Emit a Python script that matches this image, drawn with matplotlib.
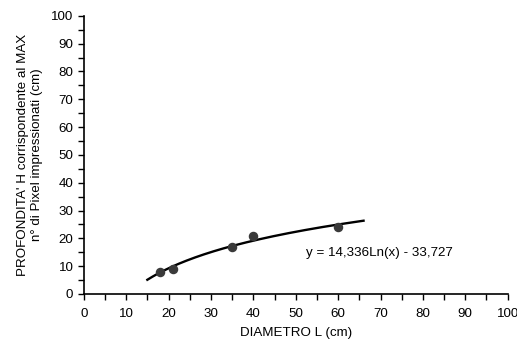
import numpy as np
from matplotlib import pyplot as plt
from matplotlib.ticker import MultipleLocator

plt.rcParams['font.family'] = ['Liberation Sans', 'DejaVu Sans']

# data
diametro = [18, 21, 35, 40, 60]
profondita = [8, 9, 17, 21, 24]

# logarithmic trendline, coefficients as printed on the chart
coef_a = 14.336
coef_b = -33.727
trend_x0, trend_x1 = 15, 66

fig = plt.figure(figsize=(5.17, 3.45), dpi=100)
ax = fig.add_axes([0.162, 0.148, 0.82, 0.806])

xx = np.linspace(trend_x0, trend_x1, 200)
ax.plot(xx, coef_a * np.log(xx) + coef_b, color="black", linewidth=1.7, zorder=2)
ax.scatter(diametro, profondita, s=34, color="#3a3a3a", zorder=3)

ax.text(52.5, 14.7, "y = 14,336Ln(x) - 33,727", fontsize=9.6, va="center", ha="left")

ax.set_xlim(0, 100)
ax.set_ylim(0, 100)
ax.xaxis.set_major_locator(MultipleLocator(10))
ax.xaxis.set_minor_locator(MultipleLocator(5))
ax.yaxis.set_major_locator(MultipleLocator(10))
ax.yaxis.set_minor_locator(MultipleLocator(5))
ax.tick_params(which="both", direction="out", length=4, width=1, labelsize=9.6)
ax.tick_params(axis="x", pad=6)

for s in ["top", "right"]:
    ax.spines[s].set_visible(False)
for s in ["left", "bottom"]:
    ax.spines[s].set_linewidth(1.2)

ax.set_xlabel("DIAMETRO L (cm)", fontsize=9.6, labelpad=5)
ax.set_ylabel("PROFONDITA' H corrispondente al MAX\nn° di Pixel impressionati (cm)", fontsize=9.6, labelpad=6)

plt.savefig("out.png", dpi=100)
